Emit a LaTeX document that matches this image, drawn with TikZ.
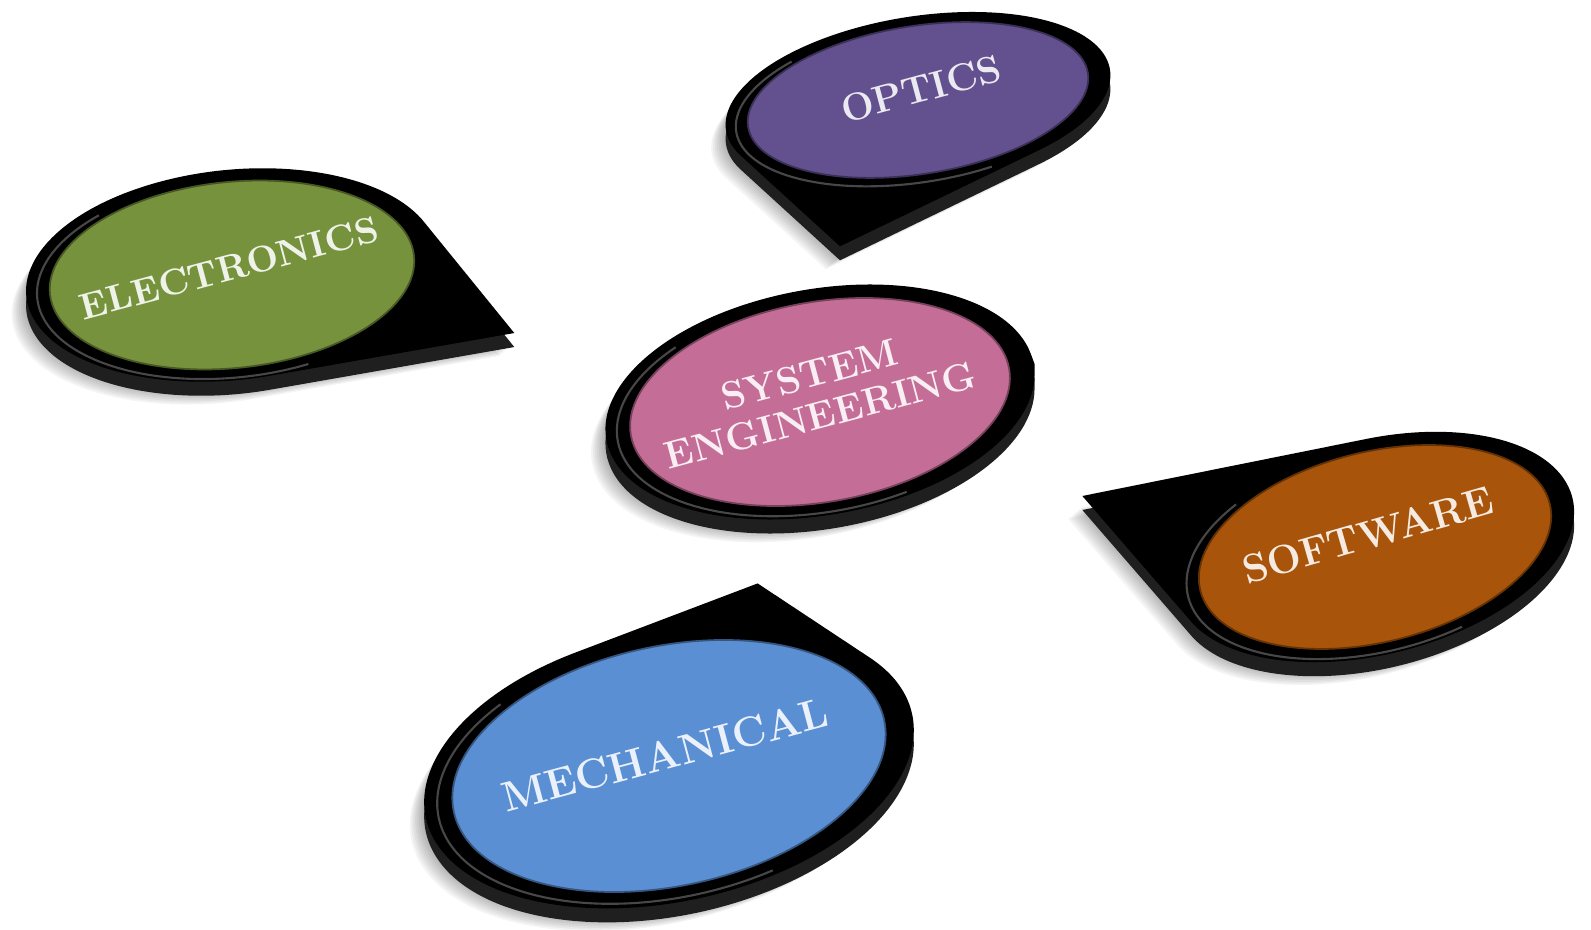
\documentclass[tikz,border=0pt]{standalone}
\usepackage{tikz}

\definecolor{elecgreen}{HTML}{76923C}
\definecolor{optpurple}{HTML}{63508F}
\definecolor{syspink}{HTML}{C46E97}
\definecolor{softorange}{HTML}{A8540A}
\definecolor{mechblue}{HTML}{5A8FD4}

\tikzset{
  discframe/.style n args={5}{shift={(#1,#2)}, rotate=#3, xscale=#4, yscale=#5},
  disctext/.style={text=#1!12!white, align=center, inner sep=0pt},
}

% x, y, tilt, half axes, tip angle, tip distance, colour
\newcommand{\teardisc}[8]{%
  \pgfmathsetmacro{\tipgap}{acos(1.13/#7)}
  % soft shadow
  \foreach \s in {1,...,8}
    \fill[black, opacity=0.045, discframe={#1-0.018*\s}{#2-0.10-0.016*\s}{#3}{#4}{#5}]
      (#6+\tipgap:1.13) arc[start angle=#6+\tipgap, delta angle=360-2*\tipgap, radius=1.13] -- (#6:#7) -- cycle;
  % side and top of the black body
  \fill[black!88, discframe={#1}{#2-0.14}{#3}{#4}{#5}]
    (#6+\tipgap:1.13) arc[start angle=#6+\tipgap, delta angle=360-2*\tipgap, radius=1.13] -- (#6:#7) -- cycle;
  \fill[black, discframe={#1}{#2}{#3}{#4}{#5}]
    (#6+\tipgap:1.13) arc[start angle=#6+\tipgap, delta angle=360-2*\tipgap, radius=1.13] -- (#6:#7) -- cycle;
  \draw[black!65, line width=0.6pt, opacity=0.8, discframe={#1}{#2-0.03}{#3}{#4}{#5}]
    (130:1.07) arc[start angle=130, end angle=290, radius=1.07];
  % coloured face
  \fill[#8, draw=#8!60!black, line width=0.5pt, discframe={#1}{#2}{#3}{#4}{#5}]
    (0,0) circle[radius=1];
}

\begin{document}
\begin{tikzpicture}
\useasboundingbox (0,0) rectangle (15.91,9.29);

\teardisc{2.32}{6.54}{6}{1.83}{0.93}{-32}{1.77}{elecgreen}
\teardisc{9.18}{8.29}{9}{1.72}{0.74}{-108}{1.88}{optpurple}
\teardisc{8.20}{5.27}{10}{1.92}{1.00}{0}{1.135}{syspink}
\teardisc{13.75}{3.82}{14}{1.80}{0.95}{140}{1.97}{softorange}
\teardisc{6.69}{1.63}{12}{2.20}{1.20}{67}{1.45}{mechblue}

\node[disctext=elecgreen, rotate=15, font=\bfseries\fontsize{10.5}{12}\selectfont] (elec) at (2.29,6.61) {ELECTRONICS};
\node[disctext=optpurple, rotate=15, font=\bfseries\fontsize{11}{12}\selectfont] (optics) at (9.21,8.40) {OPTICS};
\node[disctext=syspink, rotate=15, font=\bfseries\fontsize{11}{12}\selectfont] (system) at (8.15,5.34) {SYSTEM\\ENGINEERING};
\node[disctext=softorange, rotate=16, font=\bfseries\fontsize{11.5}{12}\selectfont] (software) at (13.68,3.94) {SOFTWARE};
\node[disctext=mechblue, rotate=15, font=\bfseries\fontsize{12}{12}\selectfont] (mech) at (6.65,1.74) {MECHANICAL};
\end{tikzpicture}
\end{document}
